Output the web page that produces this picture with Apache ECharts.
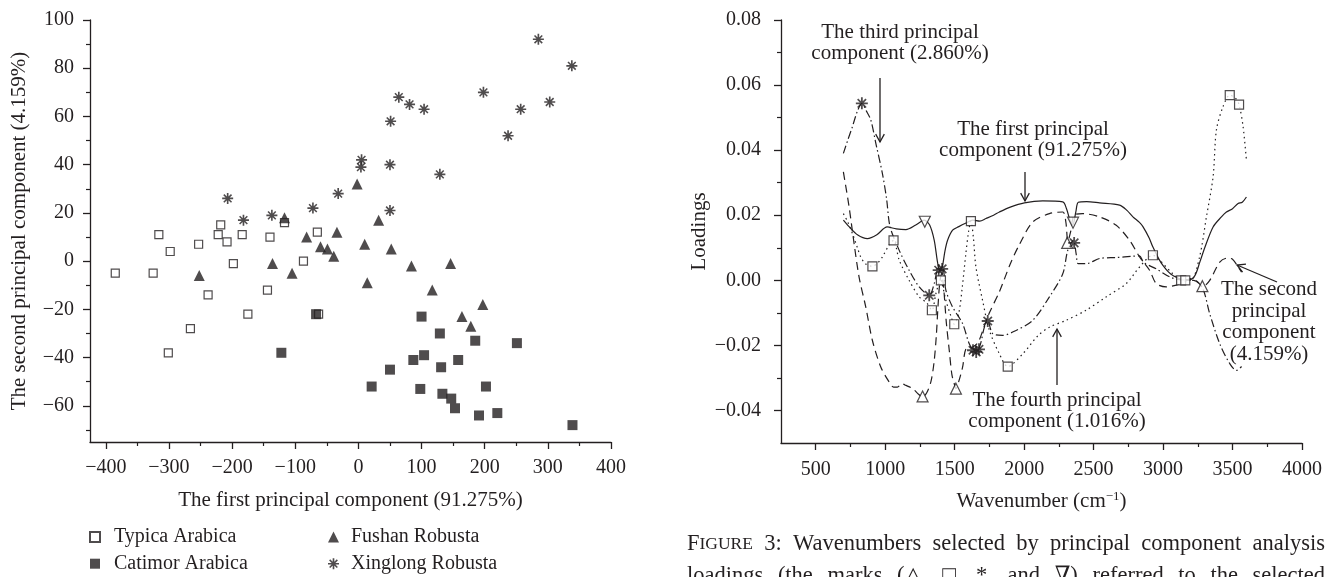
<!DOCTYPE html>
<html>
<head>
<meta charset="utf-8">
<script src="https://cdn.jsdelivr.net/npm/echarts@6/dist/echarts.min.js"></script>
<style>
  html, body { margin: 0; padding: 0; background: #fff; }
  #chart { width: 1335px; height: 577px; }
</style>
</head>
<body>
<div id="chart"></div>
<script>
// ---- left panel: PCA scores (PC1, PC2) ----
const typica = [[-385,-5],[-325,-5],[-316,11],[-298,4],[-253,7],[-238,-14],[-218,15],[-222,11],[-208,8],[-198,-1],
  [-184,11],[-140,10],[-144,-12],[-117,16],[-87,0],[-65,12],[-266,-28],[-301,-38],[-175,-22],[-63,-22]];
const catimor = [[-122,-38],[-67,-22],[100,-23],[129,-30],[185,-33],[251,-34],[87,-41],[104,-39],[158,-41],[50,-45],
  [131,-44],[21,-52],[98,-53],[202,-52],[133,-55],[147,-57],[153,-61],[191,-64],[220,-63],[339,-68]];
const fushan = [[-252,-6],[-136,-1],[-105,-5],[-117,18],[-82,10],[-60,6],[-49,5],[-2,32],[32,17],[-34,12],
  [-39,2],[10,7],[52,5],[84,-2],[146,-1],[14,-9],[117,-12],[197,-18],[164,-23],[178,-27]];
const xinglong = [[-207,26],[-182,17],[-137,19],[-72,22],[-32,28],[5,42],[4,39],[50,40],[50,21],[51,58],
  [64,68],[81,65],[104,63],[129,36],[198,70],[237,52],[257,63],[285,92],[303,66],[338,81]];

const scoreXTicks = [-400,-300,-200,-100,0,100,200,300,400];
const scoreXMinor = [-350,-250,-150,-50,50,150,250,350];
const scoreYTicks = [-60,-40,-20,0,20,40,60,80,100];
const scoreYMinor = [-70,-50,-30,-10,10,30,50,70,90];

// ---- right panel: loadings vs wavenumber ----
const pc1 = [[699,0.0185],[740,0.0165],[800,0.0140],[872,0.0128],[940,0.0140],[1014,0.0164],[1080,0.0158],[1149,0.0156],
  [1220,0.0170],[1281,0.0185],[1320,0.0170],[1353,0.0123],[1375,0.0060],[1392,0.0030],[1410,0.0040],[1430,0.0090],
  [1449,0.0123],[1485,0.0154],[1530,0.0165],[1582,0.0176],[1630,0.0185],[1680,0.0182],[1726,0.0190],[1780,0.0200],
  [1822,0.0210],[1900,0.0225],[2002,0.0238],[2134,0.0244],[2278,0.0241],[2305,0.0220],[2330,0.0185],[2350,0.0170],
  [2372,0.0210],[2390,0.0240],[2450,0.0242],[2543,0.0238],[2687,0.0231],[2740,0.0215],[2783,0.0195],[2830,0.0178],
  [2855,0.0165],[2900,0.0130],[2927,0.0102],[2970,0.0065],[2999,0.0046],[3040,0.0025],[3071,0.0015],[3143,0.0002],
  [3190,0.0002],[3230,0.0015],[3264,0.0055],[3300,0.0100],[3360,0.0164],[3420,0.0195],[3456,0.0210],[3500,0.0220],
  [3540,0.0236],[3570,0.0240],[3600,0.0256]];
const pc2 = [[699,0.0333],[740,0.0226],[776,0.0113],[812,0.0010],[860,-0.0082],[908,-0.0185],[969,-0.0267],[1029,-0.0313],
  [1060,-0.0328],[1088,-0.0328],[1120,-0.0318],[1149,-0.0323],[1197,-0.0333],[1240,-0.0350],[1269,-0.0359],[1300,-0.0345],
  [1330,-0.0310],[1352,-0.0250],[1368,-0.0170],[1380,-0.0080],[1392,-0.0010],[1405,0.0020],[1420,-0.0020],[1440,-0.0130],
  [1461,-0.0215],[1480,-0.0290],[1497,-0.0318],[1509,-0.0333],[1530,-0.0310],[1557,-0.0267],[1582,-0.0210],[1630,-0.0205],
  [1670,-0.0190],[1710,-0.0145],[1750,-0.0100],[1822,-0.0035],[1900,0.0050],[1966,0.0110],[2062,0.0179],[2182,0.0205],
  [2278,0.0210],[2300,0.0180],[2315,0.0120],[2335,0.0150],[2360,0.0200],[2420,0.0205],[2543,0.0195],[2663,0.0169],
  [2759,0.0123],[2831,0.0072],[2903,0.0031],[2951,-0.0010],[3023,-0.0020],[3095,-0.0015],[3150,-0.0005],[3200,0.0005],
  [3250,-0.0005],[3285,-0.0020],[3336,0.0000],[3408,0.0056],[3460,0.0068],[3500,0.0065],[3540,0.0041],[3565,0.0025]];
const pc3 = [[699,0.0390],[730,0.0430],[764,0.0472],[800,0.0520],[832,0.0544],[865,0.0520],[897,0.0492],[933,0.0420],
  [980,0.0328],[1010,0.0250],[1035,0.0165],[1101,0.0092],[1172,0.0031],[1245,-0.0020],[1317,-0.0046],[1353,-0.0010],
  [1377,0.0031],[1413,0.0036],[1437,-0.0031],[1485,-0.0082],[1557,-0.0133],[1605,-0.0195],[1640,-0.0215],[1678,-0.0205],
  [1714,-0.0144],[1738,-0.0125],[1774,-0.0164],[1846,-0.0169],[1942,-0.0154],[2062,-0.0123],[2182,-0.0051],[2278,0.0020],
  [2314,0.0092],[2355,0.0123],[2375,0.0080],[2390,0.0051],[2458,0.0052],[2543,0.0067],[2663,0.0070],[2783,0.0074],
  [2831,0.0075],[2860,0.0055],[2951,0.0035],[3050,0.0010],[3150,0.0000],[3220,0.0000],[3285,-0.0025],[3336,-0.0103],
  [3408,-0.0195],[3480,-0.0256],[3528,-0.0277],[3565,-0.0265]];
const pc4 = [[699,0.0205],[730,0.0180],[764,0.0144],[800,0.0100],[824,0.0072],[860,0.0050],[908,0.0043],[950,0.0055],
  [980,0.0072],[1030,0.0110],[1060,0.0123],[1101,0.0062],[1172,0.0000],[1245,-0.0051],[1300,-0.0070],[1336,-0.0092],
  [1365,-0.0041],[1390,-0.0005],[1401,0.0000],[1420,-0.0030],[1437,-0.0062],[1473,-0.0110],[1497,-0.0135],[1530,-0.0100],
  [1555,-0.0020],[1580,0.0080],[1600,0.0150],[1617,0.0182],[1635,0.0130],[1653,0.0041],[1701,-0.0062],[1750,-0.0154],
  [1822,-0.0226],[1882,-0.0265],[1990,-0.0226],[2100,-0.0170],[2182,-0.0144],[2302,-0.0123],[2446,-0.0092],[2590,-0.0051],
  [2735,-0.0010],[2831,0.0041],[2927,0.0077],[2975,0.0062],[3071,0.0020],[3143,0.0000],[3200,0.0000],[3263,0.0072],
  [3312,0.0195],[3360,0.0318],[3384,0.0462],[3431,0.0533],[3480,0.0569],[3520,0.0560],[3547,0.0540],[3576,0.0472],
  [3600,0.0369]];

// selected wavenumbers (marks on the curves)
const pc1Marks = [[1285,0.0180],[2352,0.0177]];
const pc2Marks = [[1269,-0.0357],[1509,-0.0333],[2310,0.0115],[3283,-0.0018]];
const pc3Marks = [[832,0.0544],[1317,-0.0046],[1385,0.0031],[1410,0.0035],[1632,-0.0215],[1655,-0.0220],[1675,-0.0212],[1738,-0.0125],[2360,0.0115]];
const pc4Marks = [[908,0.0043],[1060,0.0123],[1336,-0.0092],[1401,0.0000],[1497,-0.0135],[1617,0.0182],[1882,-0.0265],
  [2927,0.0077],[3130,0.0000],[3160,0.0000],[3480,0.0569],[3547,0.0540]];

const waveXTicks = [500,1000,1500,2000,2500,3000,3500,4000];
const waveXMinor = [750,1250,1750,2250,2750,3250,3750];
const loadYTicks = [-0.04,-0.02,0,0.02,0.04,0.06,0.08];
const loadYMinor = [-0.03,-0.01,0.01,0.03,0.05,0.07];

// caption words (justified across the right column)
const captionLine1 = ['FIGURE', '3:', 'Wavenumbers', 'selected', 'by', 'principal', 'component', 'analysis'];
const captionLine2 = ['loadings', '(the', 'marks', '(\u25b3,', '\u25a1,', '*,', 'and', '\u2207)', 'referred', 'to', 'the', 'selected'];

const FONT = '"Liberation Serif", "DejaVu Serif", serif';
const INK = '#231f20';
const STAR = 'path://M0 8.5L20 8.5L20 11.5L0 11.5Z M8.5 0L11.5 0L11.5 20L8.5 20Z M2 4L4 2L18 16L16 18Z M16 2L18 4L4 18L2 16Z M7 7L13 7L13 13L7 13Z';

const minus = s => String(s).replace('-', '\u2212');

function axisPair(dim, grid, min, max, ticks, minor, fmt, margin, name, nameGap) {
  const pos = dim === 'x' ? 'bottom' : 'left';
  const major = {
    type: 'value', gridIndex: grid, min: min, max: max, position: pos,
    axisLine: { onZero: false, lineStyle: { color: INK, width: 1.3 } },
    axisTick: { customValues: ticks, length: 7, lineStyle: { color: INK, width: 1.3 } },
    axisLabel: { customValues: ticks, formatter: fmt, margin: margin, color: INK, fontSize: 20, fontFamily: FONT },
    splitLine: { show: false },
    name: name, nameLocation: 'middle', nameGap: nameGap,
    nameTextStyle: { color: INK, fontSize: 21, fontFamily: FONT,
      rich: { sup: { fontSize: 13, verticalAlign: 'top', padding: [0, 0, 10, 0], color: INK, fontFamily: FONT } } }
  };
  const small = {
    type: 'value', gridIndex: grid, min: min, max: max, position: pos,
    axisLine: { show: false, onZero: false },
    axisTick: { customValues: minor, length: 4, lineStyle: { color: INK, width: 1.2 } },
    axisLabel: { show: false }, splitLine: { show: false }
  };
  return [major, small];
}

const intFmt = v => minus(Math.round(v));
const decFmt = v => minus(v.toFixed(2));

function lineSeries(name, data, dash) {
  return { name: name, type: 'line', xAxisIndex: 2, yAxisIndex: 2, data: data, symbol: 'none',
    smooth: 0.3, silent: true, z: 2, lineStyle: { color: INK, width: 1.2, type: dash } };
}
function markSeries(name, data, symbol, size, filled, rotate) {
  return { name: name, type: 'scatter', xAxisIndex: 2, yAxisIndex: 2, data: data, symbol: symbol,
    symbolSize: size, symbolRotate: rotate || 0, silent: true, z: 5,
    itemStyle: filled ? { color: INK } : { color: '#fff', borderColor: INK, borderWidth: 1.2 } };
}

function arrow(x1, y1, x2, y2) {
  const a = Math.atan2(y2 - y1, x2 - x1), L = 9, W = 0.5;
  const p1 = [x2 - L * Math.cos(a - W), y2 - L * Math.sin(a - W)];
  const p2 = [x2 - L * Math.cos(a + W), y2 - L * Math.sin(a + W)];
  const st = { stroke: INK, lineWidth: 1.3, fill: null };
  return [
    { type: 'polyline', shape: { points: [[x1, y1], [x2, y2]] }, style: st },
    { type: 'polyline', shape: { points: [p1, [x2, y2], p2] }, style: st }
  ];
}
function label(x, y, text) {
  return { type: 'text', x: x, y: y, style: { text: text, fill: INK, font: '21px ' + FONT,
    align: 'center', verticalAlign: 'middle', lineHeight: 21.5 } };
}

// lay words out so the line fills x0..x1, like the justified caption
const CAP = 22.5, CAPSC = 17.5;
const ctx = document.createElement('canvas').getContext('2d');
function wordWidth(w) {
  if (w === 'FIGURE') {
    ctx.font = CAP + 'px ' + FONT; const a = ctx.measureText('F').width;
    ctx.font = CAPSC + 'px ' + FONT; return a + ctx.measureText('IGURE').width;
  }
  ctx.font = CAP + 'px ' + FONT; return ctx.measureText(w).width;
}
function justify(words, x0, x1, y) {
  const widths = words.map(wordWidth);
  const gap = (x1 - x0 - widths.reduce((a, b) => a + b, 0)) / (words.length - 1);
  let x = x0;
  return words.map((w, i) => {
    const el = { type: 'text', x: x, y: y, style: {
      text: w === 'FIGURE' ? '{big|F}{sc|IGURE}' : w, fill: INK, font: CAP + 'px ' + FONT, verticalAlign: 'middle',
      rich: { big: { fontSize: CAP, fontFamily: FONT, fill: INK }, sc: { fontSize: CAPSC, fontFamily: FONT, fill: INK } } } };
    x += widths[i] + gap;
    return el;
  });
}

const xs = axisPair('x', 0, -425, 400, scoreXTicks, scoreXMinor, intFmt, 16,
  'The first principal component (91.275%)', 48)
  .concat(axisPair('x', 1, 250, 4000, waveXTicks, waveXMinor, v => String(v), 17,
  'Wavenumber (cm{sup|\u22121})', 47));
const ys = axisPair('y', 0, -75, 100, scoreYTicks, scoreYMinor, intFmt, 16,
  'The second principal component (4.159%)', 60)
  .concat(axisPair('y', 1, -0.05, 0.08, loadYTicks, loadYMinor, decFmt, 20, 'Loadings', 71));

const chart = echarts.init(document.getElementById('chart'), null, { renderer: 'canvas' });
chart.setOption({
  animation: false,
  backgroundColor: '#fff',
  textStyle: { fontFamily: FONT },
  grid: [
    { left: 90, top: 20, width: 521, height: 422, containLabel: false, outerBoundsMode: 'none' },
    { left: 781, top: 20, width: 521, height: 423, containLabel: false, outerBoundsMode: 'none' }
  ],
  xAxis: xs,
  yAxis: ys,
  legend: [
    { data: ['Typica Arabica', 'Catimor Arabica'], left: 89, top: 527, orient: 'vertical', itemGap: 6.7,
      padding: 0, height: 50, itemWidth: 10, itemHeight: 10, selectedMode: false,
      textStyle: { color: INK, fontSize: 20, fontFamily: 'Liberation Serif', padding: [0, 0, 0, 9] } },
    { data: ['Fushan Robusta', 'Xinglong Robusta'], left: 328, top: 527, orient: 'vertical', itemGap: 6.7,
      padding: 0, height: 50, itemWidth: 11, itemHeight: 11, selectedMode: false,
      textStyle: { color: INK, fontSize: 20, fontFamily: 'Liberation Serif', padding: [0, 0, 0, 7] } }
  ],
  series: [
    { name: 'Typica Arabica', type: 'scatter', data: typica, symbol: 'rect', symbolSize: 8,
      itemStyle: { color: '#fff', borderColor: INK, borderWidth: 1.2 } },
    { name: 'Catimor Arabica', type: 'scatter', data: catimor, symbol: 'rect', symbolSize: 10,
      itemStyle: { color: INK } },
    { name: 'Fushan Robusta', type: 'scatter', data: fushan, symbol: 'triangle', symbolSize: 11,
      itemStyle: { color: INK } },
    { name: 'Xinglong Robusta', type: 'scatter', data: xinglong, symbol: STAR, symbolSize: 11,
      itemStyle: { color: INK } },
    lineSeries('PC1', pc1, 'solid'),
    lineSeries('PC2', pc2, [8, 5]),
    lineSeries('PC3', pc3, [8, 3, 1.5, 3]),
    lineSeries('PC4', pc4, [1.5, 3.5]),
    markSeries('PC1 marks', pc1Marks, 'triangle', 11, false, 180),
    markSeries('PC2 marks', pc2Marks, 'triangle', 11, false),
    markSeries('PC3 marks', pc3Marks, STAR, 12, true),
    markSeries('PC4 marks', pc4Marks, 'rect', 9, false)
  ],
  graphic: [
    label(900, 43, 'The third principal\ncomponent (2.860%)'),
    label(1033, 140, 'The first principal\ncomponent (91.275%)'),
    label(1057, 411, 'The fourth principal\ncomponent (1.016%)'),
    label(1269, 322, 'The second\nprincipal\ncomponent\n(4.159%)'),
    ...arrow(880, 78, 880, 142),
    ...arrow(1025, 172, 1025, 201),
    ...arrow(1057, 385, 1057, 329),
    ...arrow(1277, 282, 1237, 265),
    ...justify(captionLine1, 687, 1325, 544),
    ...justify(captionLine2, 687, 1325, 576)
  ]
});
</script>
</body>
</html>
